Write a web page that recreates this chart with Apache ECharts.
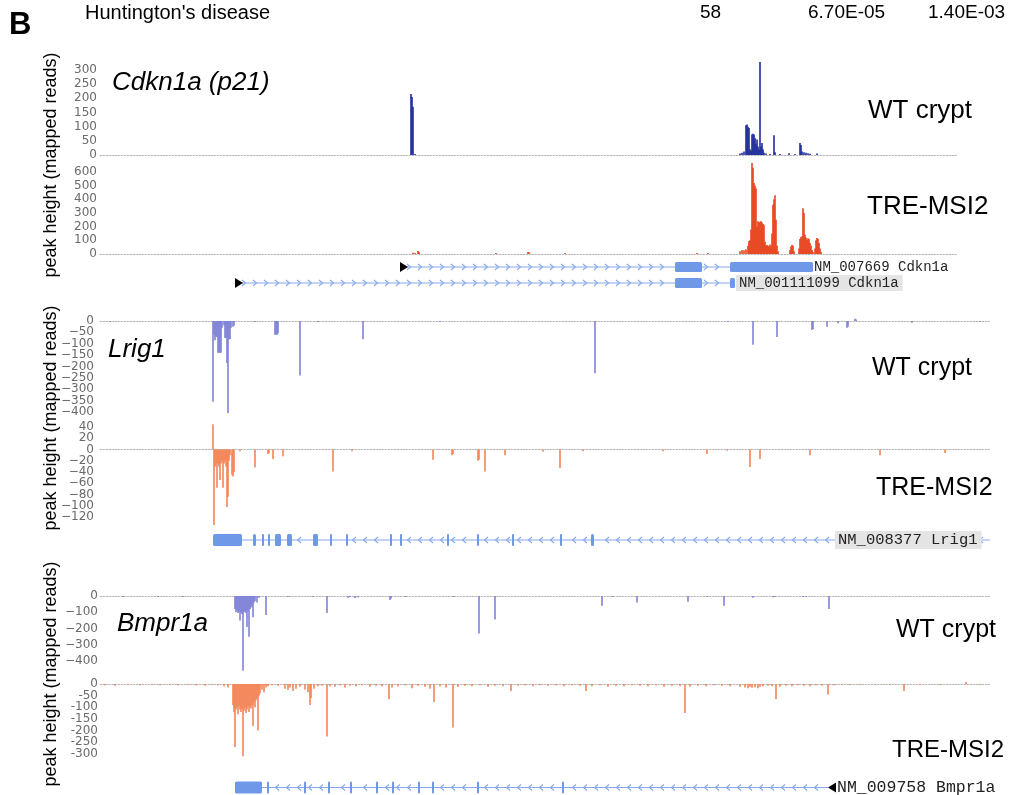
<!DOCTYPE html>
<html><head><meta charset="utf-8">
<script src="https://cdn.jsdelivr.net/npm/echarts@6.0.0/dist/echarts.min.js"></script>
<style>html,body{margin:0;padding:0;background:#fff}#c{width:1011px;height:795px}</style>
</head><body><div id="c"></div>
<script>
// ---------------- DATA (positions along the locus, peak heights in mapped reads) ----------------
const headerRow = ["Huntington's disease", "58", "6.70E-05", "1.40E-03"];
const panelLetter = "B";
const yTitle = "peak height (mapped reads)";
const geneNames = ["Cdkn1a (p21)", "Lrig1", "Bmpr1a"];
const conditions = ["WT crypt", "TRE-MSI2"];

const cdkn1aWT = [[411,215],[412,205],[413,170],[415,3],[740,5],[742,8],[744,12],[746,105],[747,108],[748,100],[749,95],[750,20],[751,15],[752,72],[753,75],[754,72],[755,60],[756,40],[757,55],[758,30],[759,20],[760,328],[761,30],[762,42],[763,20],[764,8],[766,5],[770,3],[774,70],[775,10],[780,3],[789,6],[795,3],[800,42],[801,35],[802,12],[804,10],[806,8],[808,6],[810,4],[817,5]];
const cdkn1aTRE = [[413,10],[415,8],[418,22],[419,15],[496,3],[528,15],[529,12],[565,5],[697,5],[708,4],[740,20],[742,30],[744,28],[746,35],[748,60],[749,95],[750,100],[751,180],[752,666],[753,630],[754,520],[755,500],[756,480],[757,200],[758,240],[759,230],[760,235],[761,240],[762,230],[763,220],[764,210],[765,90],[766,60],[767,65],[768,60],[769,55],[770,70],[771,60],[772,150],[773,360],[774,400],[775,430],[776,250],[777,60],[778,20],[790,30],[791,55],[792,65],[793,60],[794,20],[799,40],[800,110],[801,125],[802,130],[803,335],[804,300],[805,140],[806,120],[807,100],[808,115],[809,110],[810,80],[811,60],[812,30],[813,15],[815,40],[816,100],[817,117],[818,110],[819,80],[820,40],[821,15]];
const lrig1WT = [[110,-3],[213,-355],[214,-60],[215,-85],[216,-70],[217,-70],[218,-140],[219,-140],[220,-140],[221,-140],[222,-30],[224,-20],[225,-75],[226,-75],[227,-185],[228,-405],[229,-80],[230,-80],[231,-30],[233,-25],[234,-20],[255,-3],[275,-60],[276,-60],[277,-60],[278,-55],[300,-240],[318,-3],[363,-80],[440,-3],[595,-230],[728,-3],[753,-105],[777,-70],[812,-40],[813,-35],[827,-25],[838,-10],[847,-30],[848,-25],[855,10],[856,6],[912,-8],[980,-3]];
const lrig1TRE = [[213,45],[214,-134],[215,-30],[216,-25],[217,-68],[218,-25],[219,-30],[220,-54],[221,-25],[222,-20],[223,-68],[224,-25],[225,-20],[226,-30],[227,-102],[228,-84],[229,-20],[230,-10],[232,-45],[233,-48],[234,-40],[240,-3],[255,-32],[268,-8],[269,-6],[273,-17],[283,-12],[333,-39],[352,-3],[433,-18],[452,-10],[453,-8],[478,-20],[479,-18],[485,-39],[505,-10],[543,-4],[560,-33],[583,-3],[663,-3],[707,-8],[727,-2],[750,-31],[760,-17],[810,-10],[880,-10],[945,-6]];
const bmpr1aWT = [[123,-3],[158,-3],[183,-3],[235,-80],[236,-100],[237,-90],[238,-105],[239,-95],[240,-150],[241,-100],[242,-110],[243,-460],[244,-100],[245,-95],[246,-105],[247,-190],[248,-90],[249,-250],[250,-80],[251,-70],[252,-60],[253,-130],[254,-40],[255,-30],[257,-40],[259,-10],[266,-117],[288,-3],[313,-5],[327,-105],[348,-10],[350,-6],[355,-12],[358,-8],[390,-25],[391,-15],[405,-3],[453,-3],[479,-230],[495,-145],[602,-60],[613,-5],[637,-40],[688,-35],[707,-5],[724,-60],[753,-10],[773,-8],[775,-5],[803,-5],[806,-4],[829,-80]];
const bmpr1aTRE = [[105,-5],[115,-8],[128,-4],[140,-6],[152,-3],[160,-5],[170,-4],[178,-6],[188,-3],[196,-5],[205,-8],[212,-4],[218,-6],[224,-10],[228,-15],[233,-90],[234,-120],[235,-270],[236,-110],[237,-100],[238,-130],[239,-95],[240,-110],[241,-120],[242,-105],[243,-310],[244,-115],[245,-100],[246,-125],[247,-110],[248,-95],[249,-120],[250,-100],[251,-105],[252,-90],[253,-180],[254,-80],[255,-100],[256,-70],[257,-60],[258,-200],[259,-50],[260,-40],[262,-25],[264,-35],[266,-15],[268,-10],[272,-5],[278,-8],[285,-20],[288,-25],[290,-15],[293,-30],[296,-20],[300,-12],[305,-25],[308,-35],[310,-90],[311,-60],[314,-20],[318,-10],[322,-8],[327,-225],[330,-10],[335,-12],[340,-6],[345,-15],[350,-8],[356,-10],[362,-5],[370,-12],[376,-8],[382,-10],[389,-66],[392,-15],[398,-10],[405,-6],[412,-18],[418,-8],[425,-12],[430,-20],[434,-77],[440,-10],[446,-15],[453,-187],[458,-12],[465,-8],[472,-10],[480,-6],[488,-12],[495,-8],[503,-10],[511,-30],[518,-8],[525,-5],[533,-10],[540,-6],[548,-8],[556,-5],[564,-10],[572,-6],[580,-8],[586,-30],[592,-10],[600,-6],[608,-12],[616,-8],[624,-10],[632,-5],[640,-8],[648,-10],[656,-6],[664,-12],[672,-8],[680,-10],[685,-124],[690,-12],[698,-8],[706,-10],[714,-6],[722,-8],[730,-10],[740,-12],[745,-15],[748,-18],[750,-12],[752,-16],[755,-14],[758,-18],[760,-12],[763,-10],[768,-8],[772,-10],[776,-66],[780,-12],[786,-8],[792,-10],[798,-6],[804,-8],[810,-10],[816,-6],[822,-8],[828,-45],[834,-5],[842,-4],[850,-3],[860,-3],[875,-3],[890,-3],[904,-30],[920,-3],[940,-3],[966,8],[980,-2]];

const cdkn1aWTTicks = [0,50,100,150,200,250,300];
const cdkn1aTRETicks = [0,100,200,300,400,500,600];
const lrig1WTTicks = [0,-50,-100,-150,-200,-250,-300,-350,-400];
const lrig1TRETicks = [40,20,0,-20,-40,-60,-80,-100,-120];
const bmpr1aWTTicks = [0,-100,-200,-300,-400];
const bmpr1aTRETicks = [0,-50,-100,-150,-200,-250,-300];

const cdkn1aGenes = [
  {name:"NM_007669 Cdkn1a", start:400, end:813, strand:"+", arrow:"start", exons:[[675,702],[730,813]], labelAt:814, boxed:false},
  {name:"NM_001111099 Cdkn1a", start:235, end:735, strand:"+", arrow:"start", exons:[[675,702],[730,735]], labelAt:736, boxed:true}
];
const lrig1Genes = [
  {name:"NM_008377 Lrig1", start:213, end:990, strand:"-", arrow:null, exons:[[213,242],[253,256],[262,264],[268,270],[275,281],[287,292],[313,318],[330,332],[346,348],[390,392],[400,402],[447,449],[477,479],[512,514],[560,562],[591,594]], labelAt:835, boxed:true}
];
const bmpr1aGenes = [
  {name:"NM_009758 Bmpr1a", start:235, end:828, strand:"-", arrow:"end", exons:[[235,262],[267,269],[304,306],[328,330],[350,352],[376,378],[392,394],[418,420],[432,434],[477,479],[562,564]], labelAt:837, boxed:false}
];

// ---------------- LAYOUT / STYLE ----------------
const C = {
  cdkWT:'#1f2b9c', cdkTRE:'#e8431c', wt:'#7f82d6', tre:'#f38557',
  exon:'#6f98e8', intron:'#86a8ee', zero:'#b5b5b5', tick:'#6a6a6a'
};
const cdkX = [100, 958], wideX = [100, 990];
const tracks = [
  {data:cdkn1aWT, ticks:cdkn1aWTTicks, min:0, max:350, interval:50, top:55.8, height:99.2, xr:cdkX, color:C.cdkWT, minus:'-', margin:3},
  {data:cdkn1aTRE, ticks:cdkn1aTRETicks, min:0, max:700, interval:100, top:158.3, height:95.7, xr:cdkX, color:C.cdkTRE, minus:'-', margin:3},
  {data:lrig1WT, ticks:lrig1WTTicks, min:-450, max:50, interval:50, top:309.6, height:113.75, xr:wideX, color:C.wt, minus:'\u2212', margin:6},
  {data:lrig1TRE, ticks:lrig1TRETicks, min:-140, max:60, interval:20, top:415.75, height:112.5, xr:wideX, color:C.tre, minus:'\u2212', margin:6},
  {data:bmpr1aWT, ticks:bmpr1aWTTicks, min:-500, max:100, interval:100, top:579.75, height:97.5, xr:wideX, color:C.wt, minus:'\u2212', margin:2},
  {data:bmpr1aTRE, ticks:bmpr1aTRETicks, min:-350, max:50, interval:50, top:672.3, height:93.3, xr:wideX, color:C.tre, minus:'-', margin:2}
];
const geneTracks = [
  {genes:cdkn1aGenes, top:259, height:32, xr:cdkX, exonH:10, font:'14px "Liberation Mono"'},
  {genes:lrig1Genes, top:532, height:16, xr:wideX, exonH:12, font:'15.5px "Liberation Mono"'},
  {genes:bmpr1aGenes, top:780, height:16, xr:wideX, exonH:12, font:'16.5px "Liberation Mono"'}
];

const grid = [], xAxis = [], yAxis = [], series = [];
function barItem(params, api) {
  const x = api.value(0), v = api.value(1);
  const p0 = api.coord([x, 0]), p1 = api.coord([x, v]);
  const h = Math.max(Math.abs(p1[1]-p0[1]), 1);
  return {type:'rect', shape:{x:p0[0]-0.8, y:v>=0 ? p0[1]-h : p0[1], width:1.6, height:h},
          style:{fill: api.visual('color')}};
}
tracks.forEach((t, i) => {
  grid.push({left:100, width:t.xr[1]-100, top:t.top, height:t.height});
  xAxis.push({type:'value', gridIndex:i, min:t.xr[0], max:t.xr[1], axisLabel:{show:false}, axisTick:{show:false}, splitLine:{show:false},
    axisLine:{show:true, onZero:true, lineStyle:{color:C.zero, type:[1.5,1.5], width:1}}});
  yAxis.push({type:'value', gridIndex:i, min:t.min, max:t.max, interval:t.interval, axisLine:{show:false}, axisTick:{show:false}, splitLine:{show:false},
    axisLabel:{margin:t.margin, color:C.tick, fontSize:12, fontFamily:'DejaVu Sans',
      formatter: v => t.ticks.includes(v) ? (v < 0 ? t.minus + Math.abs(v) : String(v)) : ''}});
  series.push({type:'custom', xAxisIndex:i, yAxisIndex:i, data:t.data, renderItem:barItem, itemStyle:{color:t.color}, silent:true, animation:false});
});

function chevronsBetween(g, y, s, e, api) {
  const out = [];
  const step = 11;
  for (let px = s + 9; px < e - 4; px += step) {
    const inExon = g.exons.some(ex => { const a = api.coord([ex[0],0])[0], b = api.coord([ex[1],0])[0]; return px > a - 4 && px < b + 4; });
    if (inExon) continue;
    const d = g.strand === '+' ? 1 : -1;
    out.push({type:'polyline', shape:{points:[[px-2*d,y-3],[px+1.5*d,y],[px-2*d,y+3]]}, style:{stroke:C.intron, lineWidth:1.1, fill:null}});
  }
  return out;
}
geneTracks.forEach((gt, k) => {
  const gi = tracks.length + k;
  const n = gt.genes.length;
  grid.push({left:100, width:gt.xr[1]-100, top:gt.top, height:gt.height});
  xAxis.push({type:'value', gridIndex:gi, min:gt.xr[0], max:gt.xr[1], show:false});
  yAxis.push({type:'value', gridIndex:gi, min:0, max:n, inverse:true, show:false});
  // intron lines, chevrons, TSS arrows, labels
  series.push({type:'custom', xAxisIndex:gi, yAxisIndex:gi, silent:true, animation:false, clip:false,
    data: gt.genes.map((g, r) => [g.start, g.end, r + 0.5]),
    renderItem: (params, api) => {
      const g = gt.genes[params.dataIndex];
      const s = api.coord([api.value(0), api.value(2)]);
      const e = api.coord([api.value(1), api.value(2)]);
      const y = s[1];
      const ch = [{type:'line', shape:{x1:s[0], y1:y, x2:e[0], y2:y}, style:{stroke:C.intron, lineWidth:1}}];
      chevronsBetween(g, y, s[0], e[0], api).forEach(c => ch.push(c));
      if (g.arrow === 'start') ch.push({type:'polygon', shape:{points:[[s[0],y-5],[s[0]+8,y],[s[0],y+5]]}, style:{fill:'#000'}});
      if (g.arrow === 'end') ch.push({type:'polygon', shape:{points:[[e[0]+8,y-5],[e[0],y],[e[0]+8,y+5]]}, style:{fill:'#000'}});
      const lx = api.coord([g.labelAt, 0])[0];
      ch.push({type:'text', x:lx, y:y, z2:10, style:{text:g.name, font:gt.font, fill:'#222', textAlign:'left', textVerticalAlign:'middle', verticalAlign:'middle',
        backgroundColor: g.boxed ? '#e4e4e4' : null, padding: g.boxed ? [1,4,1,3] : 0}});
      return {type:'group', children:ch};
    }});
  // exons
  const exData = [];
  gt.genes.forEach((g, r) => g.exons.forEach(ex => exData.push([ex[0], ex[1], r + 0.5])));
  series.push({type:'custom', xAxisIndex:gi, yAxisIndex:gi, silent:true, animation:false, clip:false, data:exData, z:3,
    renderItem: (params, api) => {
      const a = api.coord([api.value(0), api.value(2)]);
      const b = api.coord([api.value(1), api.value(2)]);
      const w = Math.max(b[0]-a[0], 2);
      return {type:'rect', shape:{x:a[0], y:a[1]-gt.exonH/2, width:w, height:gt.exonH, r:1.5}, style:{fill:C.exon}};
    }});
});

function txt(x, y, text, font, extra) {
  return Object.assign({type:'text', x:x, y:y, silent:true, style:{text:text, font:font, fill:'#000', textAlign:'left', textVerticalAlign:'middle', verticalAlign:'middle'}}, extra || {});
}
const graphic = [
  txt(9, 25, panelLetter, 'bold 31px "Liberation Sans"'),
  txt(85, 13, headerRow[0], '20px "Liberation Sans"'),
  txt(700, 13, headerRow[1], '19px "Liberation Sans"'),
  txt(808, 13, headerRow[2], '19px "Liberation Sans"'),
  txt(928, 13, headerRow[3], '19px "Liberation Sans"'),
  txt(112, 83, geneNames[0], 'italic 26px "Liberation Sans"'),
  txt(108, 350, geneNames[1], 'italic 26px "Liberation Sans"'),
  txt(117, 624, geneNames[2], 'italic 26px "Liberation Sans"'),
  txt(868, 111, conditions[0], '26px "Liberation Sans"'),
  txt(867, 207, conditions[1], '26px "Liberation Sans"'),
  txt(872, 368, conditions[0], '25px "Liberation Sans"'),
  txt(876, 488, conditions[1], '25px "Liberation Sans"'),
  txt(896, 630, conditions[0], '25px "Liberation Sans"'),
  txt(892, 750, conditions[1], '24px "Liberation Sans"')
];
[165, 418, 674].forEach(cy => {
  graphic.push({type:'text', x:51, y:cy, rotation:Math.PI/2, silent:true,
    style:{text:yTitle, font:'18px "Liberation Sans"', fill:'#000', textAlign:'center', textVerticalAlign:'middle', verticalAlign:'middle'}});
});

const chart = echarts.init(document.getElementById('c'), null, {renderer:'canvas'});
chart.setOption({animation:false, backgroundColor:'#fff', grid, xAxis, yAxis, series, graphic});
</script></body></html>
